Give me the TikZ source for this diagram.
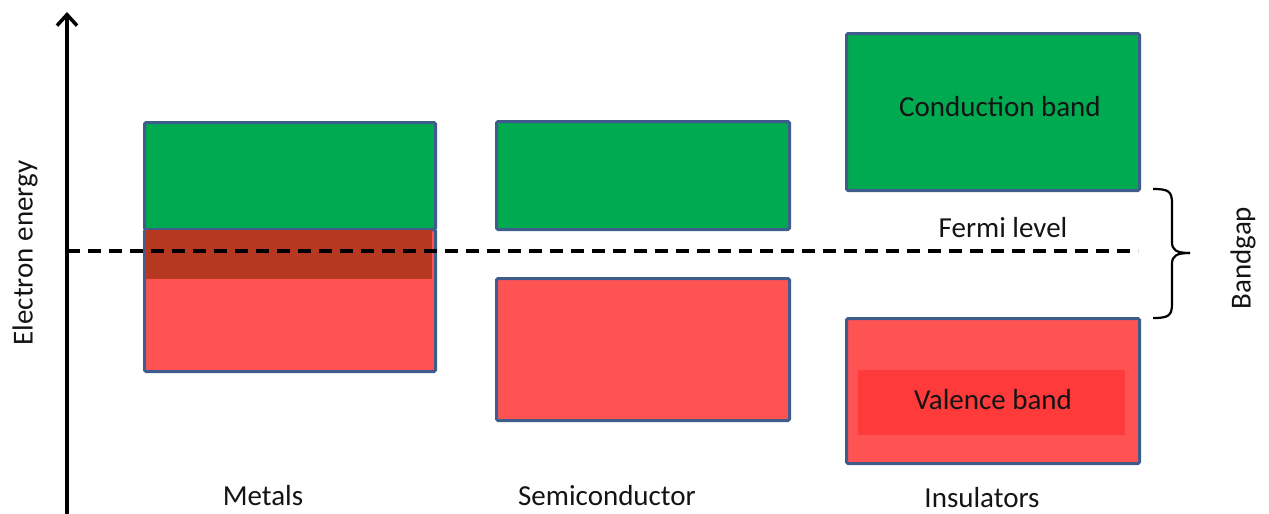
\documentclass[tikz,border=0pt]{standalone}
\usepackage{fontspec}
\setmainfont{Carlito}
\usetikzlibrary{arrows.meta}
\definecolor{bandgreen}{RGB}{0,170,80}
\definecolor{bandred}{RGB}{255,82,82}
\definecolor{overlap}{RGB}{182,56,32}
\definecolor{valcore}{RGB}{255,58,58}
\definecolor{bandedge}{RGB}{64,92,140}
\definecolor{labeltext}{RGB}{20,20,20}
\tikzset{
  band/.style={draw=bandedge, line width=3pt, rounded corners=1.5pt, inner sep=0pt, anchor=north west},
  condband/.style={band, fill=bandgreen},
  valband/.style={band, fill=bandred},
  lbl/.style={text=labeltext, font=\fontsize{29}{34}\selectfont, inner sep=0pt},
  fermi/.style={line width=4.5pt, dash pattern=on 13pt off 8pt},
}
\begin{document}
\begin{tikzpicture}[x=1pt,y=-1pt]
\useasboundingbox (0,0) rectangle (1269,514);

% energy axis
\coordinate (axbot) at (67,514);
\coordinate (axtop) at (67,12);
\draw[line width=3.5pt, -{Straight Barb[length=11pt,width=20pt,line width=3.5pt]}] (axbot) -- (axtop);
\node[lbl, rotate=90] (elabel) at (25,253) {Electron energy};

% metals: overlapping bands
\node[valband, minimum width=291pt, minimum height=142pt] (mval) at (143,228) {};
\node[condband, minimum width=291pt, minimum height=107pt] (mcond) at (143,121) {};
\fill[overlap] (145,229.5) rectangle (432,279);

% semiconductor
\node[condband, minimum width=293pt, minimum height=108pt] (scond) at (495,120) {};
\node[valband, minimum width=293pt, minimum height=142pt] (sval) at (495,277) {};

% insulator
\node[condband, minimum width=293pt, minimum height=157pt] (icond) at (845,32) {};
\node[valband, minimum width=293pt, minimum height=145pt] (ival) at (845,317) {};
\node[fill=valcore, minimum width=267pt, minimum height=65pt, inner sep=0pt, anchor=north west] (icore) at (858,370) {};
\node[lbl] (ctext) at (1000,107) {Conduction band};
\node[lbl] (vtext) at (993,400) {Valence band};

% Fermi level
\coordinate (fstart) at (67,251);
\coordinate (fend) at (1138,251);
\draw[fermi] (fstart) -- (fend);
\node[lbl] (ftext) at (1003,228) {Fermi level};

% bandgap brace
\coordinate (btop) at (1153,189);
\coordinate (bbot) at (1153,318);
\coordinate (btip) at (1190,253);
\draw[line width=2.2pt] (btop) .. controls (1168,189) and (1172,191) .. (1172,203)
  -- (1172,242) .. controls (1172,250) and (1176,253) .. (btip);
\draw[line width=2.2pt] (bbot) .. controls (1168,318) and (1172,316) .. (1172,304)
  -- (1172,264) .. controls (1172,256) and (1176,253) .. (btip);
\node[lbl, rotate=90] (gaplabel) at (1243,258) {Bandgap};

% material labels
\node[lbl] (metals) at (263,496) {Metals};
\node[lbl] (semi) at (607,496) {Semiconductor};
\node[lbl] (insul) at (982,498) {Insulators};
\end{tikzpicture}
\end{document}
